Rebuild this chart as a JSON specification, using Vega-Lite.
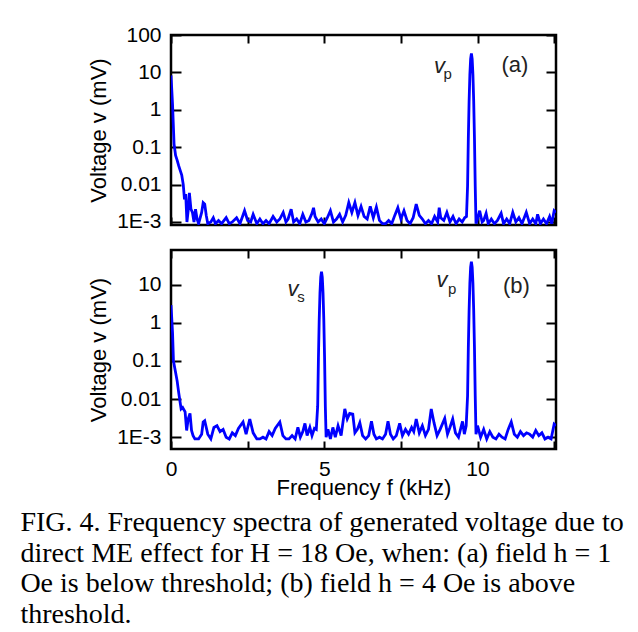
{
  "$schema": "https://vega.github.io/schema/vega-lite/v6.json",
  "background": "white",
  "padding": {"left": 20, "top": 22, "right": 5, "bottom": 5},
  "datasets": {
    "spec": [
      {"panel":"a","f":0,"v":8.3},{"panel":"a","f":0.05,"v":1.4},{"panel":"a","f":0.1,"v":0.12},{"panel":"a","f":0.15,"v":0.06},{"panel":"a","f":0.2,"v":0.045},{"panel":"a","f":0.25,"v":0.032},{"panel":"a","f":0.3,"v":0.024},{"panel":"a","f":0.35,"v":0.018},{"panel":"a","f":0.4,"v":0.01},{"panel":"a","f":0.44,"v":0.004},{"panel":"a","f":0.48,"v":0.0056},{"panel":"a","f":0.52,"v":0.001},{"panel":"a","f":0.56,"v":0.002},{"panel":"a","f":0.6,"v":0.006},{"panel":"a","f":0.65,"v":0.0022},{"panel":"a","f":0.7,"v":0.0018},{"panel":"a","f":0.75,"v":0.001},{"panel":"a","f":0.8,"v":0.0022},{"panel":"a","f":0.85,"v":0.0012},{"panel":"a","f":0.9,"v":0.0009},{"panel":"a","f":1.0,"v":0.0018},{"panel":"a","f":1.05,"v":0.0033},{"panel":"a","f":1.1,"v":0.003},{"panel":"a","f":1.15,"v":0.0015},{"panel":"a","f":1.2,"v":0.0009},{"panel":"a","f":1.3,"v":0.001},{"panel":"a","f":1.38,"v":0.0013},{"panel":"a","f":1.45,"v":0.0009},{"panel":"a","f":1.55,"v":0.0011},{"panel":"a","f":1.65,"v":0.0009},{"panel":"a","f":1.8,"v":0.0013},{"panel":"a","f":1.9,"v":0.0009},{"panel":"a","f":2.0,"v":0.001},{"panel":"a","f":2.14,"v":0.0013},{"panel":"a","f":2.25,"v":0.0009},{"panel":"a","f":2.4,"v":0.002},{"panel":"a","f":2.5,"v":0.0011},{"panel":"a","f":2.6,"v":0.001},{"panel":"a","f":2.68,"v":0.0016},{"panel":"a","f":2.8,"v":0.0009},{"panel":"a","f":2.9,"v":0.0012},{"panel":"a","f":3.0,"v":0.0009},{"panel":"a","f":3.1,"v":0.0011},{"panel":"a","f":3.2,"v":0.0009},{"panel":"a","f":3.33,"v":0.0014},{"panel":"a","f":3.45,"v":0.001},{"panel":"a","f":3.55,"v":0.0012},{"panel":"a","f":3.66,"v":0.0018},{"panel":"a","f":3.75,"v":0.001},{"panel":"a","f":3.82,"v":0.0012},{"panel":"a","f":3.92,"v":0.0022},{"panel":"a","f":4.0,"v":0.001},{"panel":"a","f":4.1,"v":0.0012},{"panel":"a","f":4.2,"v":0.0009},{"panel":"a","f":4.3,"v":0.0016},{"panel":"a","f":4.4,"v":0.001},{"panel":"a","f":4.5,"v":0.0011},{"panel":"a","f":4.6,"v":0.0017},{"panel":"a","f":4.65,"v":0.0024},{"panel":"a","f":4.7,"v":0.0014},{"panel":"a","f":4.8,"v":0.001},{"panel":"a","f":4.9,"v":0.0012},{"panel":"a","f":5.0,"v":0.0009},{"panel":"a","f":5.1,"v":0.0013},{"panel":"a","f":5.2,"v":0.002},{"panel":"a","f":5.3,"v":0.001},{"panel":"a","f":5.4,"v":0.0012},{"panel":"a","f":5.5,"v":0.0016},{"panel":"a","f":5.6,"v":0.001},{"panel":"a","f":5.7,"v":0.0015},{"panel":"a","f":5.8,"v":0.0033},{"panel":"a","f":5.9,"v":0.0018},{"panel":"a","f":6.0,"v":0.0033},{"panel":"a","f":6.1,"v":0.0015},{"panel":"a","f":6.2,"v":0.0026},{"panel":"a","f":6.3,"v":0.0014},{"panel":"a","f":6.4,"v":0.0012},{"panel":"a","f":6.5,"v":0.0026},{"panel":"a","f":6.6,"v":0.0013},{"panel":"a","f":6.7,"v":0.0025},{"panel":"a","f":6.8,"v":0.0011},{"panel":"a","f":6.9,"v":0.0009},{"panel":"a","f":7.0,"v":0.0009},{"panel":"a","f":7.1,"v":0.0011},{"panel":"a","f":7.2,"v":0.0009},{"panel":"a","f":7.3,"v":0.0015},{"panel":"a","f":7.4,"v":0.0024},{"panel":"a","f":7.5,"v":0.0012},{"panel":"a","f":7.6,"v":0.002},{"panel":"a","f":7.7,"v":0.0011},{"panel":"a","f":7.8,"v":0.0009},{"panel":"a","f":7.9,"v":0.0013},{"panel":"a","f":8.0,"v":0.003},{"panel":"a","f":8.1,"v":0.0015},{"panel":"a","f":8.2,"v":0.0012},{"panel":"a","f":8.3,"v":0.0009},{"panel":"a","f":8.4,"v":0.0011},{"panel":"a","f":8.5,"v":0.0009},{"panel":"a","f":8.6,"v":0.0014},{"panel":"a","f":8.7,"v":0.001},{"panel":"a","f":8.75,"v":0.0024},{"panel":"a","f":8.8,"v":0.0013},{"panel":"a","f":8.9,"v":0.0011},{"panel":"a","f":9.0,"v":0.0018},{"panel":"a","f":9.1,"v":0.001},{"panel":"a","f":9.2,"v":0.0014},{"panel":"a","f":9.3,"v":0.0009},{"panel":"a","f":9.4,"v":0.0012},{"panel":"a","f":9.5,"v":0.001},{"panel":"a","f":9.58,"v":0.0013},{"panel":"a","f":9.64,"v":0.0014},{"panel":"a","f":9.675,"v":0.009},{"panel":"a","f":9.7,"v":0.17},{"panel":"a","f":9.725,"v":1.7},{"panel":"a","f":9.75,"v":8.6},{"panel":"a","f":9.775,"v":23},{"panel":"a","f":9.8,"v":32},{"panel":"a","f":9.825,"v":23},{"panel":"a","f":9.85,"v":8.6},{"panel":"a","f":9.875,"v":1.7},{"panel":"a","f":9.9,"v":0.17},{"panel":"a","f":9.925,"v":0.009},{"panel":"a","f":9.95,"v":0.0009},{"panel":"a","f":10.0,"v":0.0012},{"panel":"a","f":10.07,"v":0.002},{"panel":"a","f":10.15,"v":0.001},{"panel":"a","f":10.2,"v":0.0011},{"panel":"a","f":10.28,"v":0.0017},{"panel":"a","f":10.35,"v":0.0009},{"panel":"a","f":10.45,"v":0.0012},{"panel":"a","f":10.55,"v":0.0009},{"panel":"a","f":10.65,"v":0.0011},{"panel":"a","f":10.77,"v":0.0017},{"panel":"a","f":10.85,"v":0.0009},{"panel":"a","f":10.95,"v":0.0012},{"panel":"a","f":11.05,"v":0.0009},{"panel":"a","f":11.15,"v":0.0018},{"panel":"a","f":11.25,"v":0.001},{"panel":"a","f":11.35,"v":0.0013},{"panel":"a","f":11.45,"v":0.0009},{"panel":"a","f":11.59,"v":0.0018},{"panel":"a","f":11.7,"v":0.0009},{"panel":"a","f":11.8,"v":0.0012},{"panel":"a","f":11.9,"v":0.0009},{"panel":"a","f":11.96,"v":0.0016},{"panel":"a","f":12.05,"v":0.0009},{"panel":"a","f":12.15,"v":0.0012},{"panel":"a","f":12.25,"v":0.0009},{"panel":"a","f":12.35,"v":0.0014},{"panel":"a","f":12.42,"v":0.0009},{"panel":"a","f":12.5,"v":0.002},{"panel":"a","f":12.56,"v":0.0018},
      {"panel":"b","f":0,"v":2.9},{"panel":"b","f":0.05,"v":0.55},{"panel":"b","f":0.08,"v":0.1},{"panel":"b","f":0.15,"v":0.05},{"panel":"b","f":0.2,"v":0.03},{"panel":"b","f":0.25,"v":0.015},{"panel":"b","f":0.3,"v":0.008},{"panel":"b","f":0.33,"v":0.0055},{"panel":"b","f":0.38,"v":0.006},{"panel":"b","f":0.46,"v":0.0046},{"panel":"b","f":0.51,"v":0.0015},{"panel":"b","f":0.56,"v":0.003},{"panel":"b","f":0.62,"v":0.0042},{"panel":"b","f":0.67,"v":0.0015},{"panel":"b","f":0.72,"v":0.0011},{"panel":"b","f":0.78,"v":0.0009},{"panel":"b","f":0.9,"v":0.0009},{"panel":"b","f":1.0,"v":0.0012},{"panel":"b","f":1.05,"v":0.0025},{"panel":"b","f":1.1,"v":0.0027},{"panel":"b","f":1.2,"v":0.0012},{"panel":"b","f":1.3,"v":0.0009},{"panel":"b","f":1.4,"v":0.0018},{"panel":"b","f":1.5,"v":0.002},{"panel":"b","f":1.6,"v":0.0014},{"panel":"b","f":1.7,"v":0.0016},{"panel":"b","f":1.8,"v":0.001},{"panel":"b","f":1.9,"v":0.0009},{"panel":"b","f":2.0,"v":0.0013},{"panel":"b","f":2.1,"v":0.0011},{"panel":"b","f":2.2,"v":0.0017},{"panel":"b","f":2.35,"v":0.0025},{"panel":"b","f":2.45,"v":0.0012},{"panel":"b","f":2.57,"v":0.003},{"panel":"b","f":2.68,"v":0.0013},{"panel":"b","f":2.8,"v":0.0009},{"panel":"b","f":2.9,"v":0.0009},{"panel":"b","f":3.0,"v":0.001},{"panel":"b","f":3.1,"v":0.0009},{"panel":"b","f":3.2,"v":0.0014},{"panel":"b","f":3.3,"v":0.0011},{"panel":"b","f":3.4,"v":0.0017},{"panel":"b","f":3.55,"v":0.0025},{"panel":"b","f":3.65,"v":0.0011},{"panel":"b","f":3.75,"v":0.0009},{"panel":"b","f":3.85,"v":0.0009},{"panel":"b","f":3.95,"v":0.0011},{"panel":"b","f":4.05,"v":0.0009},{"panel":"b","f":4.14,"v":0.0018},{"panel":"b","f":4.22,"v":0.001},{"panel":"b","f":4.3,"v":0.0014},{"panel":"b","f":4.37,"v":0.0023},{"panel":"b","f":4.44,"v":0.0011},{"panel":"b","f":4.53,"v":0.0018},{"panel":"b","f":4.6,"v":0.0011},{"panel":"b","f":4.68,"v":0.0017},{"panel":"b","f":4.74,"v":0.0016},{"panel":"b","f":4.785,"v":0.0065},{"panel":"b","f":4.81,"v":0.12},{"panel":"b","f":4.835,"v":1.2},{"panel":"b","f":4.86,"v":6},{"panel":"b","f":4.885,"v":15.8},{"panel":"b","f":4.91,"v":21.7},{"panel":"b","f":4.935,"v":15.8},{"panel":"b","f":4.96,"v":6},{"panel":"b","f":4.985,"v":1.2},{"panel":"b","f":5.01,"v":0.12},{"panel":"b","f":5.035,"v":0.0065},{"panel":"b","f":5.06,"v":0.001},{"panel":"b","f":5.12,"v":0.0016},{"panel":"b","f":5.2,"v":0.0009},{"panel":"b","f":5.28,"v":0.0018},{"panel":"b","f":5.36,"v":0.001},{"panel":"b","f":5.45,"v":0.002},{"panel":"b","f":5.55,"v":0.0011},{"panel":"b","f":5.67,"v":0.0055},{"panel":"b","f":5.75,"v":0.003},{"panel":"b","f":5.83,"v":0.0042},{"panel":"b","f":5.93,"v":0.004},{"panel":"b","f":6.0,"v":0.0013},{"panel":"b","f":6.08,"v":0.0016},{"panel":"b","f":6.16,"v":0.0024},{"panel":"b","f":6.25,"v":0.0011},{"panel":"b","f":6.35,"v":0.0009},{"panel":"b","f":6.45,"v":0.0011},{"panel":"b","f":6.54,"v":0.0026},{"panel":"b","f":6.62,"v":0.0012},{"panel":"b","f":6.7,"v":0.0009},{"panel":"b","f":6.8,"v":0.001},{"panel":"b","f":6.9,"v":0.0009},{"panel":"b","f":7.0,"v":0.0012},{"panel":"b","f":7.08,"v":0.0026},{"panel":"b","f":7.16,"v":0.0012},{"panel":"b","f":7.25,"v":0.0009},{"panel":"b","f":7.35,"v":0.0011},{"panel":"b","f":7.46,"v":0.0023},{"panel":"b","f":7.55,"v":0.0011},{"panel":"b","f":7.65,"v":0.0016},{"panel":"b","f":7.75,"v":0.0012},{"panel":"b","f":7.85,"v":0.0018},{"panel":"b","f":7.92,"v":0.0014},{"panel":"b","f":8.0,"v":0.003},{"panel":"b","f":8.1,"v":0.0013},{"panel":"b","f":8.2,"v":0.002},{"panel":"b","f":8.3,"v":0.0011},{"panel":"b","f":8.4,"v":0.0016},{"panel":"b","f":8.49,"v":0.0055},{"panel":"b","f":8.58,"v":0.0024},{"panel":"b","f":8.68,"v":0.0011},{"panel":"b","f":8.78,"v":0.0016},{"panel":"b","f":8.93,"v":0.0031},{"panel":"b","f":9.02,"v":0.0012},{"panel":"b","f":9.1,"v":0.0018},{"panel":"b","f":9.19,"v":0.003},{"panel":"b","f":9.28,"v":0.0013},{"panel":"b","f":9.38,"v":0.001},{"panel":"b","f":9.51,"v":0.0026},{"panel":"b","f":9.57,"v":0.0012},{"panel":"b","f":9.63,"v":0.002},{"panel":"b","f":9.675,"v":0.012},{"panel":"b","f":9.7,"v":0.22},{"panel":"b","f":9.725,"v":2.1},{"panel":"b","f":9.75,"v":10.8},{"panel":"b","f":9.775,"v":29},{"panel":"b","f":9.8,"v":40},{"panel":"b","f":9.825,"v":29},{"panel":"b","f":9.85,"v":10.8},{"panel":"b","f":9.875,"v":2.1},{"panel":"b","f":9.9,"v":0.22},{"panel":"b","f":9.925,"v":0.012},{"panel":"b","f":9.95,"v":0.0012},{"panel":"b","f":10.0,"v":0.002},{"panel":"b","f":10.1,"v":0.001},{"panel":"b","f":10.2,"v":0.0016},{"panel":"b","f":10.3,"v":0.0009},{"panel":"b","f":10.4,"v":0.0014},{"panel":"b","f":10.5,"v":0.001},{"panel":"b","f":10.6,"v":0.0009},{"panel":"b","f":10.7,"v":0.0012},{"panel":"b","f":10.8,"v":0.001},{"panel":"b","f":10.9,"v":0.0009},{"panel":"b","f":11.0,"v":0.0016},{"panel":"b","f":11.1,"v":0.0025},{"panel":"b","f":11.2,"v":0.0012},{"panel":"b","f":11.3,"v":0.001},{"panel":"b","f":11.4,"v":0.0014},{"panel":"b","f":11.5,"v":0.0011},{"panel":"b","f":11.6,"v":0.0013},{"panel":"b","f":11.7,"v":0.0012},{"panel":"b","f":11.8,"v":0.001},{"panel":"b","f":11.9,"v":0.0015},{"panel":"b","f":12.0,"v":0.0011},{"panel":"b","f":12.1,"v":0.0013},{"panel":"b","f":12.2,"v":0.0009},{"panel":"b","f":12.3,"v":0.001},{"panel":"b","f":12.4,"v":0.0009},{"panel":"b","f":12.5,"v":0.0022},{"panel":"b","f":12.56,"v":0.002}
    ],
    "ann": [
      {"panel":"a","kind":"main","label":"v","f":8.76,"v":9.6},
      {"panel":"a","kind":"sub","label":"p","f":9.03,"v":6.5},
      {"panel":"a","kind":"tag","label":"(a)","f":11.22,"v":10},
      {"panel":"b","kind":"main","label":"v","f":3.98,"v":5.0},
      {"panel":"b","kind":"sub","label":"s","f":4.24,"v":3.5},
      {"panel":"b","kind":"main","label":"v","f":8.84,"v":8.7},
      {"panel":"b","kind":"sub","label":"p","f":9.17,"v":5.7},
      {"panel":"b","kind":"tag","label":"(b)","f":11.27,"v":6.0}
    ]
  },
  "title": {
    "text": [
      "FIG. 4. Frequency spectra of generated voltage due to",
      "direct ME effect for H = 18 Oe, when: (a) field h = 1",
      "Oe is below threshold; (b) field h = 4 Oe is above",
      "threshold."
    ],
    "orient": "bottom",
    "anchor": "start",
    "frame": "bounds",
    "dx": -66,
    "offset": 10,
    "font": "Liberation Serif",
    "fontSize": 28,
    "fontWeight": "normal",
    "color": "black",
    "lineHeight": 30.5
  },
  "config": {
    "view": {"stroke": "black", "strokeWidth": 2.5},
    "axis": {
      "grid": false,
      "domain": false,
      "tickColor": "black",
      "tickWidth": 2,
      "labelFont": "Liberation Sans",
      "labelFontSize": 21,
      "labelColor": "black",
      "titleFont": "Liberation Sans",
      "titleFontSize": 22,
      "titleFontWeight": "normal",
      "titleColor": "black"
    }
  },
  "spacing": 13,
  "vconcat": [
    {
      "width": 385,
      "height": 190,
      "layer": [
        {
          "data": {"name": "spec"},
          "transform": [{"filter": "datum.panel == 'a'"}],
          "mark": {"type": "line", "color": "#0000ff", "strokeWidth": 2.8, "clip": true},
          "encoding": {
            "x": {"field": "f", "type": "quantitative", "scale": {"domain": [0, 12.56], "nice": false, "zero": false},
                  "axis": {"orient": "bottom", "values": [0, 2.5, 5, 7.5, 10, 12.5], "labels": false, "tickSize": -8, "title": null}},
            "y": {"field": "v", "type": "quantitative", "scale": {"type": "log", "domain": [0.00083, 100], "nice": false},
                  "axis": {"orient": "left", "values": [0.001, 0.01, 0.1, 1, 10, 100], "labelExpr": "datum.value < 0.005 ? '1E-3' : format(datum.value, '~g')", "tickSize": -10, "labelPadding": 20, "title": "Voltage v (mV)", "titlePadding": 6}}
          }
        },
        {
          "data": {"name": "ann"},
          "transform": [{"filter": "datum.panel == 'a' && datum.kind == 'main'"}],
          "mark": {"type": "text", "font": "Liberation Sans", "fontStyle": "italic", "fontSize": 22, "align": "center", "baseline": "alphabetic", "color": "#222"},
          "encoding": {
            "x": {"field": "f", "type": "quantitative", "scale": {"domain": [0, 12.56], "nice": false, "zero": false},
                  "axis": {"orient": "top", "values": [0, 2.5, 5, 7.5, 10, 12.5], "labels": false, "tickSize": -8, "title": null}},
            "y": {"field": "v", "type": "quantitative", "scale": {"type": "log", "domain": [0.00083, 100], "nice": false},
                  "axis": {"orient": "right", "values": [0.001, 0.01, 0.1, 1, 10, 100], "labels": false, "tickSize": -10, "title": null}},
            "text": {"field": "label"}
          }
        },
        {
          "data": {"name": "ann"},
          "transform": [{"filter": "datum.panel == 'a' && datum.kind == 'sub'"}],
          "mark": {"type": "text", "font": "Liberation Sans", "fontSize": 15, "align": "center", "baseline": "alphabetic", "color": "#222"},
          "encoding": {
            "x": {"field": "f", "type": "quantitative", "axis": null},
            "y": {"field": "v", "type": "quantitative", "axis": null},
            "text": {"field": "label"}
          }
        },
        {
          "data": {"name": "ann"},
          "transform": [{"filter": "datum.panel == 'a' && datum.kind == 'tag'"}],
          "mark": {"type": "text", "font": "Liberation Sans", "fontSize": 22, "align": "center", "baseline": "alphabetic", "color": "#222"},
          "encoding": {
            "x": {"field": "f", "type": "quantitative", "axis": null},
            "y": {"field": "v", "type": "quantitative", "axis": null},
            "text": {"field": "label"}
          }
        }
      ],
      "resolve": {"axis": {"x": "independent", "y": "independent"}}
    },
    {
      "width": 385,
      "height": 199,
      "layer": [
        {
          "data": {"name": "spec"},
          "transform": [{"filter": "datum.panel == 'b'"}],
          "mark": {"type": "line", "color": "#0000ff", "strokeWidth": 2.8, "clip": true},
          "encoding": {
            "x": {"field": "f", "type": "quantitative", "scale": {"domain": [0, 12.56], "nice": false, "zero": false},
                  "axis": {"orient": "bottom", "values": [0, 2.5, 5, 7.5, 10, 12.5], "labelExpr": "datum.value % 5 == 0 ? format(datum.value, 'd') : ''", "labelFlush": false, "tickSize": -8, "labelPadding": 17, "title": "Frequency f (kHz)", "titlePadding": -2}},
            "y": {"field": "v", "type": "quantitative", "scale": {"type": "log", "domain": [0.00049, 81], "nice": false},
                  "axis": {"orient": "left", "values": [0.001, 0.01, 0.1, 1, 10], "labelExpr": "datum.value < 0.005 ? '1E-3' : format(datum.value, '~g')", "tickSize": -10, "labelPadding": 20, "title": "Voltage v (mV)", "titlePadding": 6}}
          }
        },
        {
          "data": {"name": "ann"},
          "transform": [{"filter": "datum.panel == 'b' && datum.kind == 'main'"}],
          "mark": {"type": "text", "font": "Liberation Sans", "fontStyle": "italic", "fontSize": 22, "align": "center", "baseline": "alphabetic", "color": "#222"},
          "encoding": {
            "x": {"field": "f", "type": "quantitative", "scale": {"domain": [0, 12.56], "nice": false, "zero": false},
                  "axis": {"orient": "top", "values": [0, 2.5, 5, 7.5, 10, 12.5], "labels": false, "tickSize": -8, "title": null}},
            "y": {"field": "v", "type": "quantitative", "scale": {"type": "log", "domain": [0.00049, 81], "nice": false},
                  "axis": {"orient": "right", "values": [0.001, 0.01, 0.1, 1, 10], "labels": false, "tickSize": -10, "title": null}},
            "text": {"field": "label"}
          }
        },
        {
          "data": {"name": "ann"},
          "transform": [{"filter": "datum.panel == 'b' && datum.kind == 'sub'"}],
          "mark": {"type": "text", "font": "Liberation Sans", "fontSize": 15, "align": "center", "baseline": "alphabetic", "color": "#222"},
          "encoding": {
            "x": {"field": "f", "type": "quantitative", "axis": null},
            "y": {"field": "v", "type": "quantitative", "axis": null},
            "text": {"field": "label"}
          }
        },
        {
          "data": {"name": "ann"},
          "transform": [{"filter": "datum.panel == 'b' && datum.kind == 'tag'"}],
          "mark": {"type": "text", "font": "Liberation Sans", "fontSize": 22, "align": "center", "baseline": "alphabetic", "color": "#222"},
          "encoding": {
            "x": {"field": "f", "type": "quantitative", "axis": null},
            "y": {"field": "v", "type": "quantitative", "axis": null},
            "text": {"field": "label"}
          }
        }
      ],
      "resolve": {"axis": {"x": "independent", "y": "independent"}}
    }
  ]
}
